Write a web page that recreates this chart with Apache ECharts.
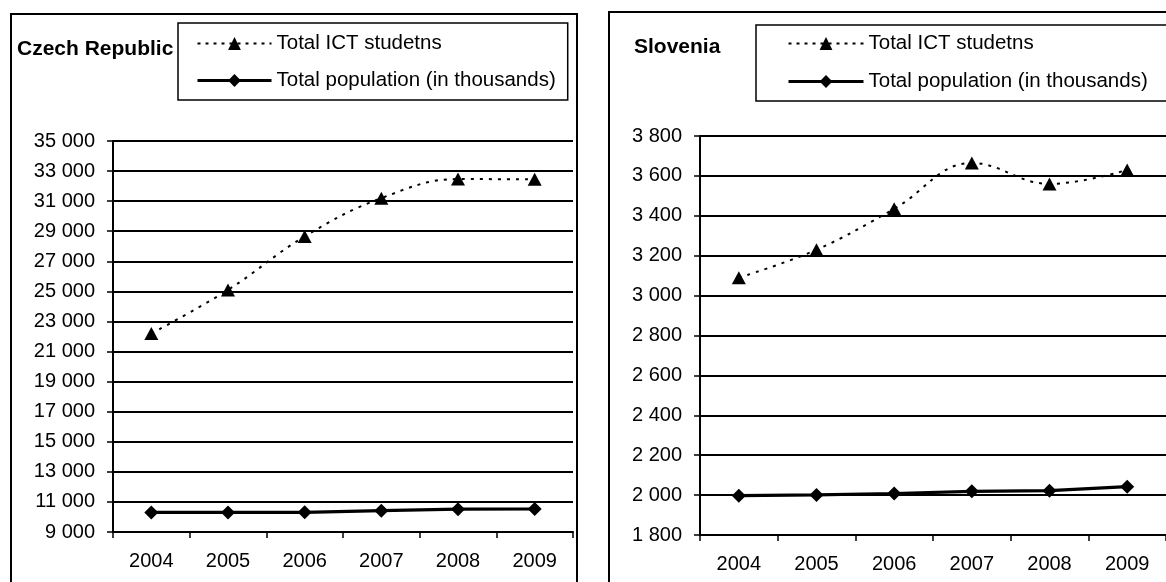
<!DOCTYPE html>
<html>
<head>
<meta charset="utf-8">
<script src="https://cdn.jsdelivr.net/npm/echarts@6/dist/echarts.min.js"></script>
<style>
html,body{margin:0;padding:0;background:#fff;}
#c{width:1166px;height:582px;}
</style>
</head>
<body>
<div id="c"></div>
<script>
var years = ['2004', '2005', '2006', '2007', '2008', '2009'];
var czIct = [22200, 25100, 28650, 31200, 32470, 32450];
var czPop = [10300, 10300, 10310, 10420, 10520, 10530];
var siIct = [3090, 3230, 3435, 3665, 3560, 3630];
var siPop = [1997, 2001, 2008, 2019, 2022, 2042];
var nameIct = 'Total ICT studetns';
var namePop = 'Total population (in thousands)';

var FONT = '"Liberation Sans", Arial, sans-serif';
function fmt(v) { return String(v).replace(/\B(?=(\d{3})+(?!\d))/g, ' '); }

var chart = echarts.init(document.getElementById('c'), null, {renderer: 'canvas'});

function xAx(gi) {
  return {
    type: 'category', gridIndex: gi, data: years, boundaryGap: true,
    axisLine: {show: true, lineStyle: {color: '#000', width: 2}},
    axisTick: {show: true, alignWithLabel: false, length: 6, lineStyle: {color: '#000', width: 1.5}},
    axisLabel: {color: '#000', fontSize: 20, fontFamily: FONT, margin: 19},
    splitLine: {show: false}
  };
}
function yAx(gi, mn, mx, iv) {
  return {
    type: 'value', gridIndex: gi, min: mn, max: mx, interval: iv,
    axisLine: {show: true, lineStyle: {color: '#000', width: 2}},
    axisTick: {show: true, length: 6, lineStyle: {color: '#000', width: 1.5}},
    axisLabel: {color: '#000', fontSize: 20, fontFamily: FONT, margin: 18, formatter: fmt},
    splitLine: {show: true, lineStyle: {color: '#000', width: 2}}
  };
}
function ictSeries(i, data) {
  return {
    name: nameIct, type: 'line', xAxisIndex: i, yAxisIndex: i, data: data,
    smooth: 0.4, symbol: 'triangle', symbolSize: [14, 13],
    lineStyle: {color: '#000', width: 2, type: [3, 6]},
    itemStyle: {color: '#000'}, animation: false, z: 3
  };
}
function popSeries(i, data) {
  return {
    name: namePop, type: 'line', xAxisIndex: i, yAxisIndex: i, data: data,
    symbol: 'diamond', symbolSize: [14, 14],
    lineStyle: {color: '#000', width: 3.2, type: 'solid'},
    itemStyle: {color: '#000'}, animation: false, z: 3
  };
}
function legend(left, top, itemWidth, padding, gap) {
  return {
    orient: 'vertical', left: left, top: top, selectedMode: false,
    data: [
      {name: nameIct, lineStyle: {color: '#000', width: 2, type: [3, 5]}},
      {name: namePop, lineStyle: {color: '#000', width: 3, type: 'solid'}}
    ],
    itemWidth: itemWidth, itemHeight: 16, itemGap: gap,
    padding: padding, borderColor: '#000', borderWidth: 1.5,
    textStyle: {color: '#000', fontSize: 20.5, fontFamily: FONT, lineHeight: 20}
  };
}

chart.setOption({
  backgroundColor: '#fff',
  animation: false,
  title: [
    {text: 'Czech Republic', left: 17, top: 39, padding: 0,
     textStyle: {color: '#000', fontSize: 21, fontWeight: 'bold', fontFamily: FONT}},
    {text: 'Slovenia', left: 634, top: 37, padding: 0,
     textStyle: {color: '#000', fontSize: 21, fontWeight: 'bold', fontFamily: FONT}}
  ],
  legend: [
    legend(178, 23, 74, [10, 12, 9, 18], 16),
    legend(756, 25, 75, [8, 30, 9, 31], 17)
  ],
  graphic: [
    {type: 'rect', shape: {x: 11, y: 14, width: 566, height: 600}, style: {fill: 'none', stroke: '#000', lineWidth: 2}, z: -1},
    {type: 'rect', shape: {x: 609, y: 12, width: 600, height: 600}, style: {fill: 'none', stroke: '#000', lineWidth: 2}, z: -1}
  ],
  grid: [
    {left: 113, top: 141, width: 460, height: 391},
    {left: 700, top: 136, width: 471, height: 399}
  ],
  xAxis: [xAx(0), xAx(1)],
  yAxis: [yAx(0, 9000, 35000, 2000), yAx(1, 1800, 3800, 200)],
  series: [ictSeries(0, czIct), popSeries(0, czPop), ictSeries(1, siIct), popSeries(1, siPop)]
});
</script>
</body>
</html>
